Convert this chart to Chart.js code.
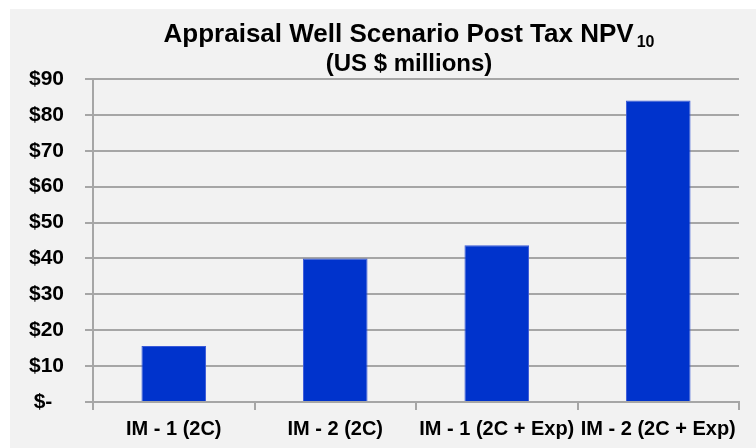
<!DOCTYPE html>
<html>
<head>
<meta charset="utf-8">
<title>Appraisal Well Scenario Post Tax NPV10</title>
<script src="https://cdn.jsdelivr.net/npm/chart.js@4.4.1/dist/chart.umd.min.js"></script>
<style>
  body { margin: 0; background: #ffffff; }
  #box {
    position: absolute;
    left: 10px;
    top: 9px;
    width: 746px;
    height: 439px;
    background: #f2f2f2;
  }
</style>
</head>
<body>
<div id="box"><canvas id="chart"></canvas></div>
<script>
// -> Daten
const categories = ["IM - 1 (2C)", "IM - 2 (2C)", "IM - 1 (2C + Exp)", "IM - 2 (2C + Exp)"];
const npvValues = [15.6, 40, 43.7, 84];
const tickLabels = ["$-", "$10", "$20", "$30", "$40", "$50", "$60", "$70", "$80", "$90"];

const titleText = "Appraisal Well Scenario Post Tax NPV";
const titleSub = "10";
const subtitleText = "(US $ millions)";

const fontFamily = "'Liberation Sans', Arial, sans-serif";
const gridGray = "#a6a6a6";

// -> Titel mit tiefgestellter 10 selber zeichnen
const titlePlugin = {
  id: "npvTitle",
  afterDraw(chart) {
    const ctx = chart.ctx;
    const cx = 399;
    ctx.save();
    ctx.fillStyle = "#000000";
    ctx.textBaseline = "alphabetic";

    ctx.font = "bold 26px " + fontFamily;
    const mainW = ctx.measureText(titleText).width;
    ctx.font = "bold 16px " + fontFamily;
    const subW = ctx.measureText(titleSub).width;

    const x = cx - (mainW + 3 + subW) / 2;
    ctx.textAlign = "left";
    ctx.font = "bold 26px " + fontFamily;
    ctx.fillText(titleText, x, 33);
    ctx.font = "bold 16px " + fontFamily;
    ctx.fillText(titleSub, x + mainW + 3, 38);

    ctx.textAlign = "center";
    ctx.font = "bold 24px " + fontFamily;
    ctx.fillText(subtitleText, cx, 62);
    ctx.restore();
  }
};

// -> Chart
const canvas = document.querySelector("#chart");

const chart = new Chart(canvas, {
  type: "bar",
  data: {
    labels: categories,
    datasets: [
      {
        data: npvValues,
        backgroundColor: "#0033cc",
        borderColor: "#3a5ad8",
        borderWidth: 1,
        barPercentage: 0.4,
        categoryPercentage: 1.0
      }
    ]
  },
  options: {
    responsive: true,
    maintainAspectRatio: false,
    animation: false,
    layout: {
      padding: { top: 70, right: 17, left: 0, bottom: 0 }
    },
    plugins: {
      legend: { display: false },
      title: { display: false },
      tooltip: { enabled: false }
    },
    scales: {
      x: {
        grid: {
          drawOnChartArea: false,
          drawTicks: true,
          tickLength: 8,
          offset: true,
          color: gridGray,
          lineWidth: 2
        },
        border: { display: true, color: gridGray, width: 2 },
        ticks: {
          color: "#000000",
          font: { family: fontFamily, size: 20, weight: "bold" },
          padding: 7,
          autoSkip: false,
          maxRotation: 0
        },
        afterFit(axis) {
          axis.height = 46;
        }
      },
      y: {
        min: 0,
        max: 90,
        ticks: {
          stepSize: 10,
          color: "#000000",
          font: { family: fontFamily, size: 21, weight: "bold" },
          padding: 21,
          // "$-" etwas nach links ruecken wie im Original
          callback: (value, index) => index === 0 ? tickLabels[0] + "  " : tickLabels[index]
        },
        grid: {
          color: gridGray,
          lineWidth: 2,
          tickLength: 8
        },
        border: { display: true, color: gridGray, width: 2 },
        afterFit(axis) {
          axis.width = 83;
        }
      }
    }
  },
  plugins: [titlePlugin]
});
</script>
</body>
</html>
